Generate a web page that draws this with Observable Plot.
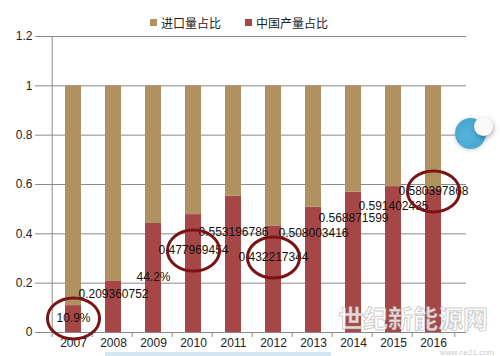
<!DOCTYPE html>
<html><head><meta charset="utf-8">
<script src="https://cdn.jsdelivr.net/npm/d3@7"></script>
<script src="https://cdn.jsdelivr.net/npm/@observablehq/plot@0.6"></script>
<style>
body{margin:0;background:#fff;}
#wrap{position:relative;width:500px;height:356px;overflow:hidden;font-family:"Liberation Sans",Arial,sans-serif;}
#legend{position:absolute;top:13px;left:0;width:478px;text-align:center;font-family:"Noto Sans CJK SC",sans-serif;font-size:12px;line-height:16px;color:#222;}
#legend span.item{display:inline-flex;align-items:center;margin:0 12px;}
#legend i{display:inline-block;width:7px;height:7px;margin-right:4px;}
#wm1{position:absolute;left:338px;top:299px;font-family:"Noto Sans CJK SC",sans-serif;font-weight:bold;font-size:25px;line-height:36px;color:rgba(255,255,255,0.8);-webkit-text-stroke:1px rgba(140,140,140,0.45);}
#wm2{position:absolute;left:440px;top:349px;font-family:"Liberation Sans",Arial,sans-serif;font-size:8px;line-height:7px;color:rgba(150,150,150,0.55);}
#knob{position:absolute;left:455px;top:118px;width:31px;height:31px;border-radius:50%;background:radial-gradient(circle at 40% 55%,#58b4db,#3d9fcb);box-shadow:0 1px 4px rgba(0,0,0,0.2);}
#knob2{position:absolute;left:474px;top:117px;width:19px;height:19px;border-radius:50%;background:#fafafa;box-shadow:1px 2px 5px rgba(0,0,0,0.3);}
#bline{position:absolute;left:105px;top:352px;width:226px;height:4px;background:#d3e7f3;}
</style></head><body><div id="wrap"></div><script>
const years = ["2007","2008","2009","2010","2011","2012","2013","2014","2015","2016"];
const chinaShare = [0.109, 0.209360752, 0.442, 0.477969454, 0.553196786, 0.432217344, 0.508003416, 0.568871599, 0.591402435, 0.580397868];
const importShare = [0.891, 0.790639248, 0.558, 0.522030546, 0.446803214, 0.567782656, 0.491996584, 0.431128401, 0.408597565, 0.419602132];
const valueLabels = ["10.9%", "0.209360752", "44.2%", "0.477969454", "0.553196786", "0.432217344", "0.508003416", "0.568871599", "0.591402435", "0.580397868"];
// level on the y scale at which each data label was placed in the original chart
const labelLevel = [0.057, 0.154, 0.223, 0.332, 0.405, 0.304, 0.401, 0.462, 0.511, 0.572];
const circledYears = ["2007", "2010", "2012", "2016"];
const seriesNames = ["进口量占比", "中国产量占比"];
const seriesColors = ["#B09260", "#A64646"];
const yTicks = [0, 0.2, 0.4, 0.6, 0.8, 1, 1.2];

const W = 500, H = 356, mL = 40, mR = 34, mT = 36, mB = 24;
const bw = (W - mL - mR) / years.length;

const rows = years.flatMap((y, i) => [
  {year: y, series: seriesNames[1], value: chinaShare[i]},
  {year: y, series: seriesNames[0], value: importShare[i]}
]);
const labelRows = years.map((y, i) => ({year: y, level: labelLevel[i], label: valueLabels[i]}));
const circleRows = labelRows.filter(d => circledYears.includes(d.year));

const ellipse = {
  draw(context, size) {
    const r = Math.sqrt(size / Math.PI);
    const rx = r * 1.27, ry = r, k = 0.5523;
    context.moveTo(rx, 0);
    context.bezierCurveTo(rx, k * ry, k * rx, ry, 0, ry);
    context.bezierCurveTo(-k * rx, ry, -rx, k * ry, -rx, 0);
    context.bezierCurveTo(-rx, -k * ry, -k * rx, -ry, 0, -ry);
    context.bezierCurveTo(k * rx, -ry, rx, -k * ry, rx, 0);
    context.closePath();
  }
};

const gray = "#8a8a8a";

const chart = Plot.plot({
  width: W, height: H,
  marginTop: mT, marginBottom: mB, marginLeft: mL, marginRight: mR,
  style: {fontFamily: "Liberation Sans, Arial, sans-serif", fontSize: "12px", background: "transparent"},
  x: {domain: years, padding: 0.6},
  y: {domain: [0, 1.2]},
  color: {domain: seriesNames, range: seriesColors},
  marks: [
    Plot.gridY(yTicks, {stroke: gray, strokeOpacity: 1}),
    Plot.barY(rows, {x: "year", y: "value", fill: "series"}),
    Plot.ruleY([0], {stroke: gray}),
    Plot.ruleX([years[0]], {x: d => d, y1: 0, y2: 1.2, dx: -bw / 2, stroke: gray}),
    Plot.ruleX(years, {x: d => d, y1: 0, y2: 0, dx: -bw / 2, insetTop: 5, stroke: gray}),
    Plot.ruleX([years[years.length - 1]], {x: d => d, y1: 0, y2: 0, dx: bw / 2, insetTop: 5, stroke: gray}),
    Plot.axisY(yTicks, {tickSize: 5, tickPadding: 3, tickFormat: d3.format("~g"), stroke: gray, fill: "#222", fontSize: 12, label: null}),
    Plot.axisX({tickSize: 0, tickPadding: 6, fill: "#222", fontSize: 12, label: null}),
    Plot.text(labelRows, {x: "year", y: "level", text: "label", fill: "#111", fontSize: 12}),
    Plot.dot(circleRows, {x: "year", y: "level", symbol: ellipse, r: 20.5, stroke: "#7a1414", strokeWidth: 3, fill: "none"})
  ]
});

const wrap = document.getElementById("wrap");
wrap.appendChild(chart);
const legend = document.createElement("div");
legend.id = "legend";
legend.innerHTML = seriesNames.map((s, i) => `<span class="item"><i style="background:${seriesColors[i]}"></i>${s}</span>`).join("");
wrap.appendChild(legend);
wrap.insertAdjacentHTML("beforeend", '<div id="wm1">世纪新能源网</div><div id="wm2">www.ne21.com</div><div id="knob"></div><div id="knob2"></div><div id="bline"></div>');
</script></body></html>
